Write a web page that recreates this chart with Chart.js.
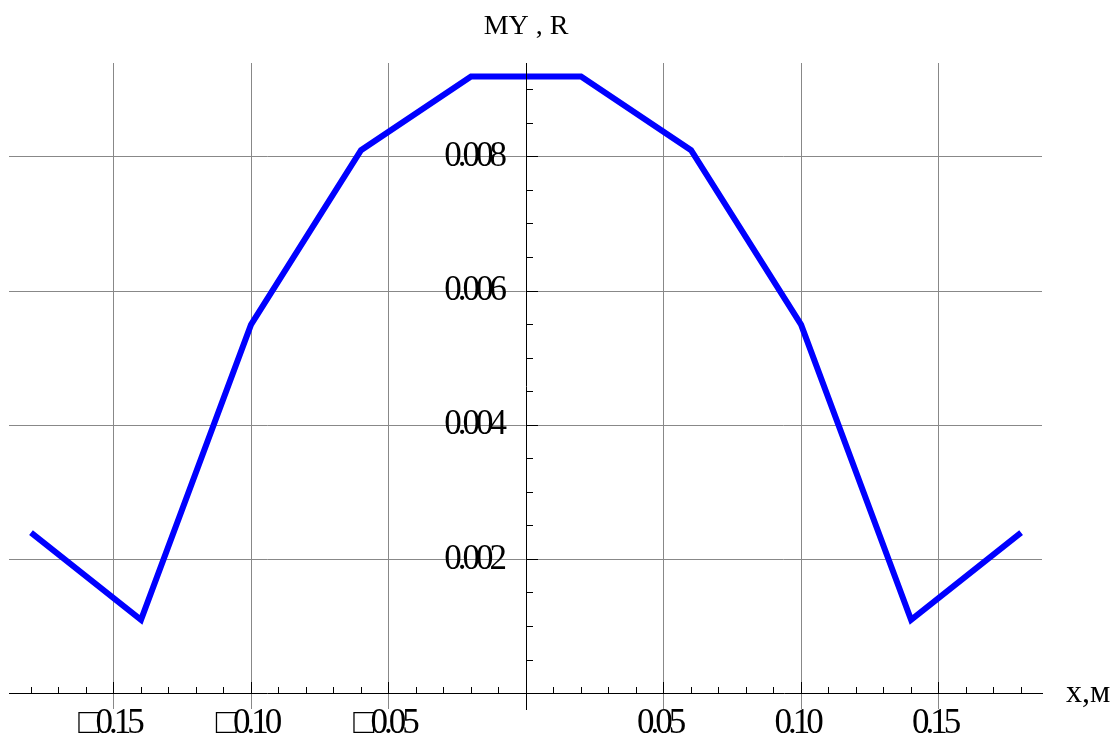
<!DOCTYPE html>
<html>
  <head>
    <title>MY, R</title>
    <meta charset="UTF-8">
    <style>
      html, body {
        margin: 0;
        padding: 0;
        background: #fff;
      }
      #wrap {
        width: 1119px;
        height: 737px;
      }
    </style>
  </head>
  <body>
    <div id="wrap"><canvas id="canvas" width="1119" height="737"></canvas></div>
    <script src="https://cdn.jsdelivr.net/npm/chart.js@4.4.1/dist/chart.umd.min.js"></script>
    <script>
    // curve points
    var xValues = [-0.18, -0.14, -0.10, -0.06, -0.02, 0.02, 0.06, 0.10, 0.14, 0.18];
    var yValues = [0.0024, 0.0011, 0.0055, 0.0081, 0.0092, 0.0092, 0.0081, 0.0055, 0.0011, 0.0024];

    // labelled ticks (the minus sign comes out as a box in the original)
    var xMajorTicks = [-0.15, -0.10, -0.05, 0.05, 0.10, 0.15];
    var xTickLabels = ['□0.15', '□0.10', '□0.05', '0.05', '0.10', '0.15'];
    var yMajorTicks = [0.002, 0.004, 0.006, 0.008];
    var yTickLabels = ['0.002', '0.004', '0.006', '0.008'];

    var yTitle = 'MY , R';
    var xTitle = 'x,м';

    // small ticks: every 0.01 on x, every 0.0005 on y
    var xMinorTicks = [];
    for (var i = -18; i <= 18; i++) {
        if (i !== 0) xMinorTicks.push(i / 100);
    }
    var yMinorTicks = [];
    for (var j = 1; j <= 18; j++) {
        yMinorTicks.push(j / 2000);
    }

    function findTick(list, v) {
        for (var k = 0; k < list.length; k++) {
            if (Math.abs(list[k] - v) < 1e-9) return k;
        }
        return -1;
    }

    var points = xValues.map(function(x, k) {
        return {x: x, y: yValues[k]};
    });

    var serif = 'Liberation Serif';
    var tickFont = {family: serif, size: 35, lineHeight: 1};

    // squeeze the tick numbers like the original, and add the two axis captions
    var textPlugin = {
        id: 'axisText',
        beforeDraw: function(chart) {
            chart.ctx.letterSpacing = '-4px';
        },
        afterDraw: function(chart) {
            var ctx = chart.ctx;
            var xs = chart.scales.x, ys = chart.scales.y;
            ctx.save();
            ctx.letterSpacing = '0px';
            ctx.fillStyle = '#000';
            ctx.font = '28px "Liberation Serif"';
            ctx.textAlign = 'center';
            ctx.textBaseline = 'alphabetic';
            ctx.fillText(yTitle, xs.getPixelForValue(0), 34);
            ctx.font = '32px "Liberation Serif"';
            ctx.textAlign = 'left';
            ctx.fillText(xTitle, xs.right + 24, ys.getPixelForValue(0) + 8);
            ctx.restore();
        }
    };

    var ctx = document.getElementById('canvas').getContext('2d');
    var chart = new Chart(ctx, {
        type: 'line',
        data: {
            datasets: [{
                data: points,
                borderColor: '#0000ff',
                backgroundColor: '#0000ff',
                borderWidth: 6,
                pointRadius: 0,
                tension: 0,
                fill: false
            }]
        },
        options: {
            responsive: false,
            animation: false,
            events: [],
            layout: {
                padding: {left: 9, right: 77, top: 63, bottom: 28}
            },
            plugins: {
                legend: {display: false},
                tooltip: {enabled: false}
            },
            scales: {
                x: {
                    type: 'linear',
                    min: -0.188,
                    max: 0.1876,
                    position: {y: 0},
                    afterFit: function(scale) { scale.height = 0; },
                    afterBuildTicks: function(scale) {
                        scale.ticks = xMinorTicks.map(function(v) { return {value: v}; });
                    },
                    ticks: {
                        autoSkip: false,
                        maxRotation: 0,
                        minRotation: 0,
                        padding: 25,
                        labelOffset: -4,
                        color: '#000',
                        font: tickFont,
                        callback: function(value) {
                            var k = findTick(xMajorTicks, value);
                            return k < 0 ? '' : xTickLabels[k];
                        }
                    },
                    grid: {
                        color: function(c) {
                            return c.tick && findTick(xMajorTicks, c.tick.value) >= 0 ? '#888' : 'rgba(0,0,0,0)';
                        },
                        lineWidth: 1,
                        tickLength: -12,
                        tickColor: '#000',
                        tickWidth: 1,
                        tickBorderDash: function(c) {
                            return c.tick && findTick(xMajorTicks, c.tick.value) >= 0 ? [] : [7, 60];
                        }
                    },
                    border: {color: '#000', width: 1, z: 1}
                },
                y: {
                    type: 'linear',
                    min: -0.00023,
                    max: 0.0094,
                    position: {x: 0},
                    afterFit: function(scale) { scale.width = 0; },
                    afterBuildTicks: function(scale) {
                        scale.ticks = yMinorTicks.map(function(v) { return {value: v}; });
                    },
                    ticks: {
                        autoSkip: false,
                        padding: 8,
                        color: '#000',
                        font: tickFont,
                        callback: function(value) {
                            var k = findTick(yMajorTicks, value);
                            // trailing spaces keep the number clear of the axis line
                            return k < 0 ? '' : yTickLabels[k] + '\u2002  ';
                        }
                    },
                    grid: {
                        color: function(c) {
                            return c.tick && findTick(yMajorTicks, c.tick.value) >= 0 ? '#888' : 'rgba(0,0,0,0)';
                        },
                        lineWidth: 1,
                        tickLength: -12,
                        tickColor: '#000',
                        tickWidth: 1,
                        tickBorderDash: function(c) {
                            return c.tick && findTick(yMajorTicks, c.tick.value) >= 0 ? [] : [7, 60];
                        }
                    },
                    border: {color: '#000', width: 1, z: 1}
                }
            }
        },
        plugins: [textPlugin]
    });
    </script>
  </body>
</html>
